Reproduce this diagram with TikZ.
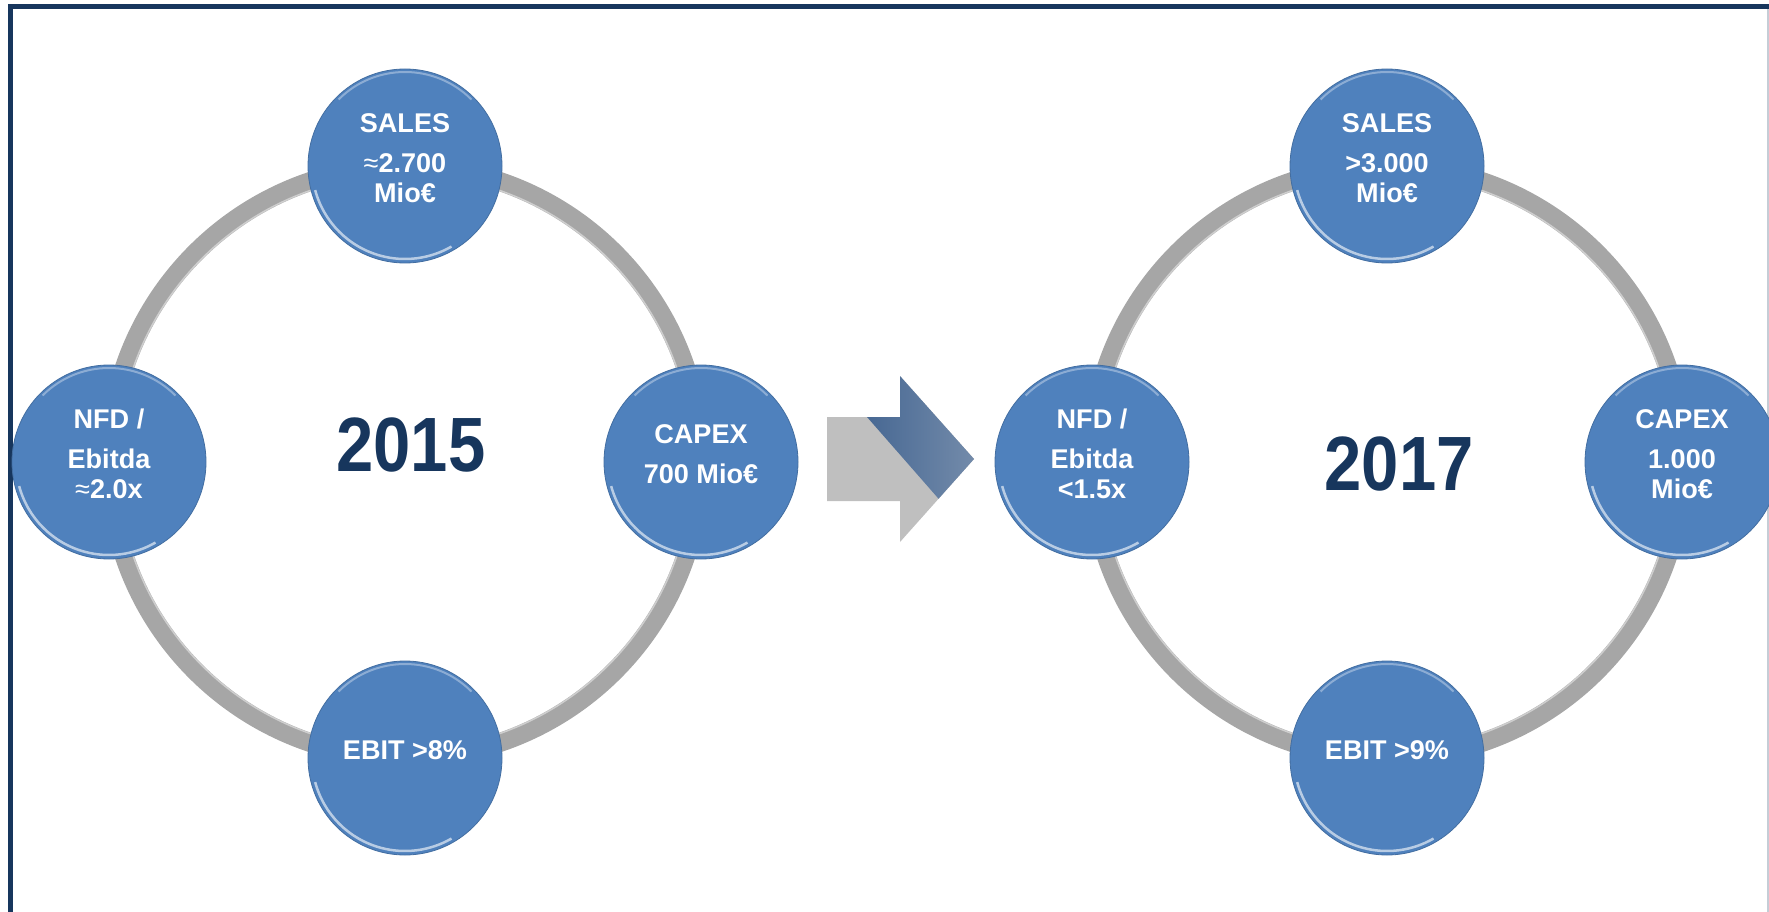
\documentclass[tikz,border=0pt]{standalone}
\usepackage{fontspec}
\setmainfont{Liberation Sans}
\usetikzlibrary{calc}
\definecolor{framenavy}{HTML}{17365D}
\definecolor{bubbleblue}{HTML}{4F81BD}
\definecolor{ringgray}{HTML}{A6A6A6}
\definecolor{arrowgray}{HTML}{BFBFBF}
\definecolor{arrowdark}{HTML}{1B457C}
\definecolor{arrowlight}{HTML}{8A9DB6}
\newcommand{\approxsign}{{\mdseries ≈}}
\tikzset{
	bubble/.style={circle, fill=bubbleblue, draw=bubbleblue!85!black, line width=0.08mm,
		minimum size=19.4mm, inner sep=0pt, text=white, align=center,
		font=\fontsize{7.7}{8.5}\selectfont\bfseries,
		execute at end node={\rule[-1.6mm]{0pt}{0pt}},
		path picture={
			\draw[white, opacity=.6, line width=0.25mm] (path picture bounding box.center) ++(195:9.3mm) arc (195:300:9.3mm);
			\draw[white, opacity=.35, line width=0.2mm] (path picture bounding box.center) ++(45:9.4mm) arc (45:135:9.4mm);
		}},
	ring/.style={draw=ringgray, line width=1.9mm},
	ringlight/.style={draw=white, opacity=.45, line width=0.15mm},
	year/.style={text=framenavy, inner sep=0pt, font=\fontsize{21.9}{24}\selectfont\bfseries},
}
\begin{document}
\begin{tikzpicture}[x=0.1mm, y=-0.1mm]
\useasboundingbox (0,0) rectangle (1769,912);
\clip (0,0) rectangle (1769,912);

\draw[framenavy, line width=0.5mm] (10.5,940) -- (10.5,6.7) -- (1790,6.7);
\draw[framenavy!25, line width=0.15mm] (1768,9) -- (1768,940);

% 2015
\draw[ring] (405,462) circle (29.6mm);
\draw[ringlight] (405,462) circle (28.75mm);
\node (sales15) [bubble] at (405,166) {SALES\\[1mm]\approxsign2.700\\Mio€};
\node (nfd15) [bubble] at (109,462) {NFD /\\[1mm]Ebitda\\\approxsign2.0x};
\node (capex15) [bubble] at (701,462) {CAPEX\\[1mm]700 Mio€};
\node (ebit15) [bubble] at (405,758) {EBIT >8\%};
\node (year15) [year] at (411,445) {\scalebox{.87}[1]{2015}};

% arrow
\fill[arrowgray] (827,417) -- (900,417) -- (900,376) -- (974,459) -- (900,542) -- (900,501) -- (827,501) -- cycle;
\begin{scope}
\clip (827,417) -- (900,417) -- (900,376) -- (974,459) -- (900,542) -- (900,501) -- (827,501) -- cycle;
\shade[left color=arrowdark, right color=arrowlight, rotate around={41.2:(867,417)}] (867,250) rectangle (925,600);
\end{scope}

% 2017
\draw[ring] (1387,462) circle (29.6mm);
\draw[ringlight] (1387,462) circle (28.75mm);
\node (sales17) [bubble] at (1387,166) {SALES\\[1mm]>3.000\\Mio€};
\node (nfd17) [bubble] at (1092,462) {NFD /\\[1mm]Ebitda\\<1.5x};
\node (capex17) [bubble] at (1682,462) {CAPEX\\[1mm]1.000\\Mio€};
\node (ebit17) [bubble] at (1387,758) {EBIT >9\%};
\node (year17) [year] at (1399,464) {\scalebox{.87}[1]{2017}};
\end{tikzpicture}
\end{document}
